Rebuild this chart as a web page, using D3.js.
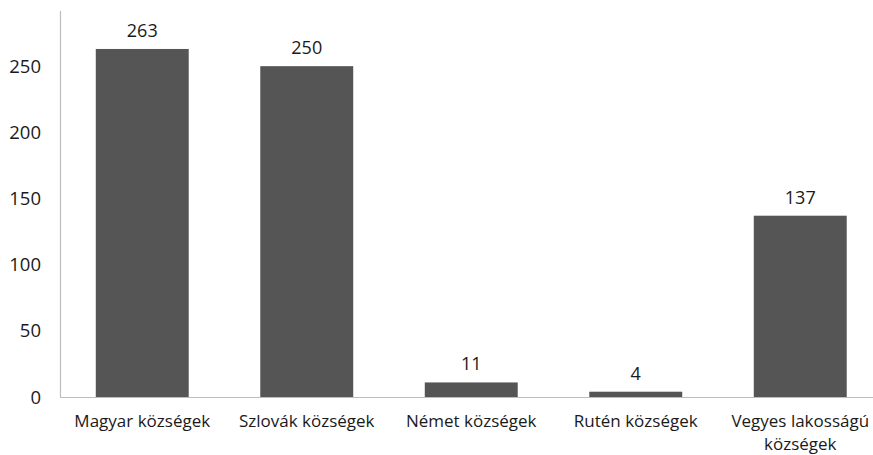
<!DOCTYPE html>
<html><head><meta charset="utf-8">
<script src="https://cdn.jsdelivr.net/npm/d3@7/dist/d3.min.js"></script>
<style>body{margin:0;background:#fff}svg{display:block}text{font-family:"Open Sans",sans-serif;fill:#1a1a1a}</style>
</head><body><svg id="c" width="873" height="455"></svg>
<script>
const categories = [["Magyar községek"], ["Szlovák községek"], ["Német községek"], ["Rutén községek"], ["Vegyes lakosságú", "községek"]];
const values = [263, 250, 11, 4, 137];
const yTicks = [0, 50, 100, 150, 200, 250];

const svg = d3.select("#c");
const x = d3.scaleBand().domain(d3.range(values.length)).range([60, 882.5]).paddingInner(0.435).paddingOuter(0.2175);
const y = d3.scaleLinear().domain([0, 300]).range([397, 0]);

// axes lines
svg.append("line").attr("x1", 60.5).attr("x2", 60.5).attr("y1", 11).attr("y2", y(0)).attr("stroke", "#bdbdbd").attr("stroke-width", 1.2);
svg.append("line").attr("x1", 60).attr("x2", 873).attr("y1", y(0) + 0.5).attr("y2", y(0) + 0.5).attr("stroke", "#bdbdbd").attr("stroke-width", 1.2);

// y tick labels
svg.append("g").selectAll("text").data(yTicks).join("text")
  .attr("x", 41).attr("y", d => y(d)).attr("dy", "0.36em")
  .attr("text-anchor", "end").style("font-size", "18.5px").text(d => d);

// bars
svg.append("g").selectAll("rect").data(values).join("rect")
  .attr("x", (d, i) => x(i)).attr("width", x.bandwidth())
  .attr("y", d => y(d)).attr("height", d => y(0) - y(d))
  .attr("fill", "#555555");

// value labels
svg.append("g").selectAll("text").data(values).join("text")
  .attr("x", (d, i) => x(i) + x.bandwidth() / 2).attr("y", d => y(d) - 12)
  .attr("text-anchor", "middle").style("font-size", "18px").text(d => d);

// category labels
const cg = svg.append("g").selectAll("text").data(categories).join("text")
  .attr("x", (d, i) => x(i) + x.bandwidth() / 2).attr("y", 427)
  .attr("text-anchor", "middle").style("font-size", "17px");
cg.selectAll("tspan").data(d => d).join("tspan")
  .attr("x", function() { return d3.select(this.parentNode).attr("x"); })
  .attr("dy", (d, i) => i === 0 ? 0 : 23).text(d => d);
</script></body></html>
